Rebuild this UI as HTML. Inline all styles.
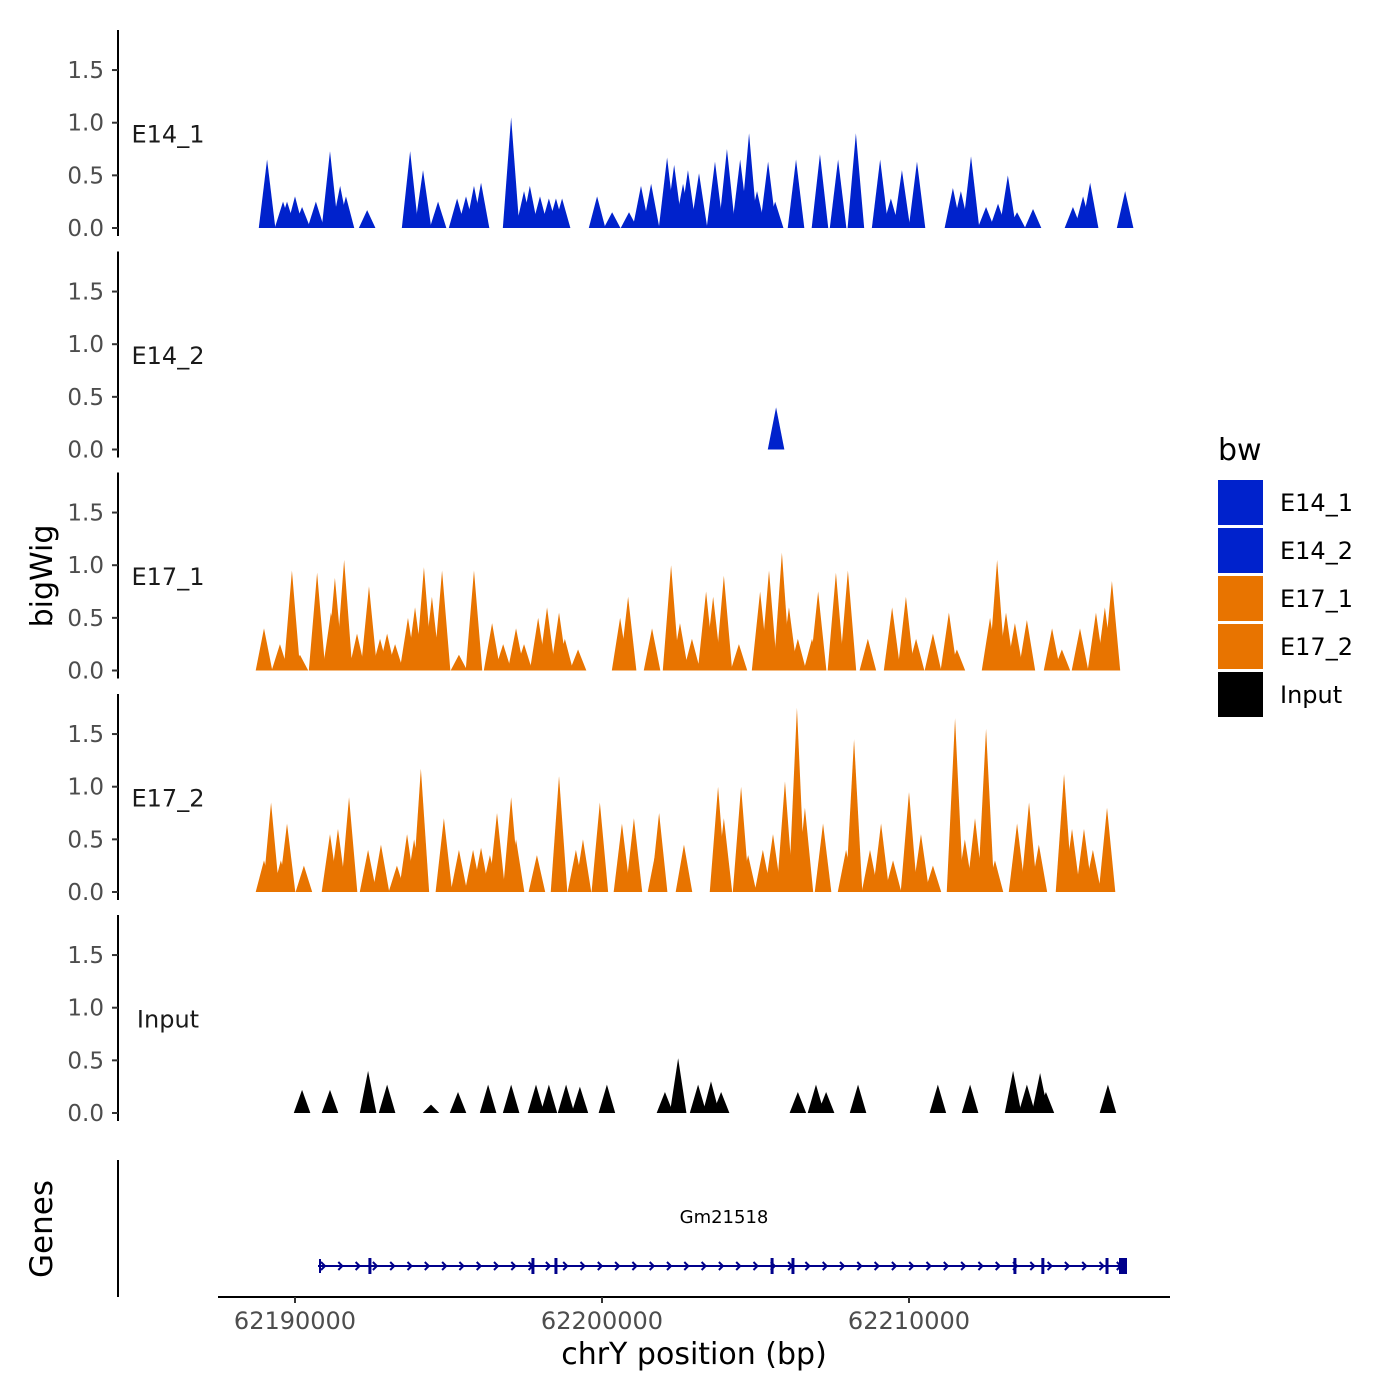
<!DOCTYPE html>
<html><head><meta charset="utf-8"><style>
body{margin:0;background:#fff}
svg{display:block;font-family:"DejaVu Sans","Liberation Sans",sans-serif}
</style></head><body>
<svg id="chart" width="1400" height="1400" viewBox="0 0 1400 1400">
<g id="axes"></g><g id="marks"></g><g id="legend"></g>
</svg>
<script>
// positions in kb relative to 62,190,000 bp ; heights in bigWig units
const trackNames = ["E14_1","E14_2","E17_1","E17_2","Input"];
const e14_1Pos = [-0.91,-0.39,-0.26,0,0.23,0.68,1.14,1.47,1.66,2.35,3.75,4.17,4.66,5.28,5.57,5.83,6.06,7.04,7.46,7.65,7.98,8.27,8.50,8.70,9.84,10.33,10.88,11.27,11.60,12.12,12.35,12.64,12.80,13.16,13.68,14.07,14.50,14.79,15.05,15.41,15.64,16.32,17.10,17.69,18.27,19.06,19.41,19.77,20.26,21.43,21.69,22.02,22.51,22.90,23.22,23.52,24.04,25.34,25.67,25.90,27.04];
const e14_1Val = [0.65,0.25,0.25,0.3,0.2,0.25,0.73,0.4,0.3,0.17,0.73,0.55,0.25,0.28,0.3,0.4,0.43,1.05,0.35,0.4,0.3,0.28,0.28,0.28,0.3,0.15,0.15,0.4,0.42,0.67,0.6,0.42,0.55,0.52,0.63,0.75,0.65,0.9,0.35,0.63,0.25,0.65,0.7,0.65,0.9,0.65,0.28,0.55,0.63,0.38,0.35,0.68,0.2,0.23,0.5,0.15,0.18,0.2,0.3,0.43,0.35];
const e14_2Pos = [15.67];
const e14_2Val = [0.4];
const e17_1Pos = [-1.01,-0.49,-0.10,0.16,0.72,1.17,1.30,1.60,2.02,2.41,2.77,3.00,3.26,3.68,3.91,4.20,4.46,4.79,5.34,5.83,6.42,6.78,7.20,7.46,7.92,8.21,8.60,8.79,9.22,10.59,10.85,11.63,12.25,12.54,12.93,13.39,13.62,13.97,14.46,15.15,15.44,15.86,16.09,16.38,16.84,17.04,17.62,18.01,18.66,19.45,19.90,20.23,20.78,21.30,21.56,22.64,22.87,23.16,23.45,23.84,24.66,24.98,25.57,26.09,26.38,26.61];
const e17_1Val = [0.4,0.25,0.95,0.15,0.93,0.55,0.88,1.05,0.35,0.8,0.3,0.35,0.25,0.5,0.6,0.98,0.7,0.95,0.15,0.95,0.45,0.25,0.4,0.25,0.5,0.6,0.55,0.3,0.2,0.5,0.7,0.4,1.0,0.45,0.3,0.75,0.7,0.9,0.25,0.75,0.95,1.12,0.6,0.3,0.3,0.75,0.93,0.95,0.3,0.6,0.7,0.3,0.35,0.55,0.2,0.5,1.05,0.55,0.45,0.48,0.4,0.2,0.4,0.55,0.6,0.85];
const e17_2Pos = [-1.01,-0.78,-0.46,-0.26,0.29,1.14,1.40,1.76,2.38,2.80,3.32,3.65,3.88,4.10,4.85,5.34,5.80,6.06,6.35,6.58,7.04,7.20,7.88,8.60,9.15,9.38,9.93,10.65,11.04,11.76,11.86,12.67,13.78,13.97,14.53,14.76,15.24,15.57,15.96,16.35,16.61,17.20,17.95,18.21,18.73,19.09,19.48,20.00,20.39,20.78,21.50,21.82,22.15,22.51,22.80,23.52,23.91,24.23,25.05,25.31,25.70,25.99,26.45];
const e17_2Val = [0.3,0.85,0.3,0.65,0.25,0.55,0.6,0.9,0.4,0.45,0.25,0.55,0.5,1.17,0.7,0.4,0.4,0.42,0.35,0.75,0.9,0.5,0.35,1.1,0.4,0.5,0.85,0.65,0.7,0.4,0.75,0.45,1.0,0.7,1.0,0.35,0.4,0.55,1.05,1.75,0.8,0.65,0.4,1.45,0.4,0.65,0.3,0.95,0.55,0.25,1.65,0.5,0.7,1.55,0.3,0.65,0.85,0.45,1.12,0.6,0.6,0.4,0.8];
const inputPos = [0.23,1.14,2.38,3.00,4.43,5.31,6.29,7.04,7.85,8.27,8.83,9.28,10.16,12.05,12.48,13.13,13.55,13.88,16.38,16.97,17.30,18.34,20.94,21.99,23.39,23.84,24.27,24.46,26.48];
const inputVal = [0.22,0.22,0.4,0.27,0.08,0.2,0.27,0.27,0.27,0.27,0.27,0.25,0.27,0.2,0.52,0.27,0.3,0.2,0.2,0.27,0.2,0.27,0.27,0.27,0.4,0.27,0.38,0.2,0.27];
const yTicks = [0,0.5,1,1.5];
const yTickLabels = ["0.0","0.5","1.0","1.5"];
const xTicks = [0,10,20];
const xTickLabels = ["62190000","62200000","62210000"];
const exonPos = [2.44,7.75,8.50,15.54,16.22,23.45,24.36,26.45];

const NS="http://www.w3.org/2000/svg";
function mk(tag,attrs,parent,text){const e=document.createElementNS(NS,tag);for(const k in attrs)e.setAttribute(k,attrs[k]);if(text!==undefined)e.textContent=text;parent.appendChild(e);return e;}
const xS = kb => 295 + kb*30.7;
const zeros=[228,449.5,670.5,892,1113];
const yS = (i,v) => zeros[i] - v*105.3;
const axes=document.getElementById('axes'), marks=document.getElementById('marks'), legend=document.getElementById('legend');
const pos=[e14_1Pos,e14_2Pos,e17_1Pos,e17_2Pos,inputPos];
const vals=[e14_1Val,e14_2Val,e17_1Val,e17_2Val,inputVal];
const cols=["#0022cc","#0022cc","#e87400","#e87400","#000000"];
const hw=0.27;
for(let i=0;i<5;i++){
  const ax=mk('line',{x1:118,x2:118,y1:zeros[i]-198,y2:zeros[i]+8,stroke:'#000','stroke-width':2},axes);
  
  
  yTicks.forEach((t,j)=>{
    const y=yS(i,t);
    const tk=mk('line',{x1:112,x2:118,y1:y,y2:y,stroke:'#333','stroke-width':2},axes);
    
    
    const tl=mk('text',{x:104,y:y+8,'text-anchor':'end','font-size':23,fill:'#4d4d4d'},axes,yTickLabels[j]);
    
    
  });
  const lab=mk('text',{x:168,y:yS(i,1)+20,'text-anchor':'middle','font-size':24,fill:'#1a1a1a'},axes,trackNames[i]);
  
  
  const g=mk('g',{fill:cols[i]},marks);
  
  
  pos[i].forEach((p,j)=>{
    const pk=mk('polygon',{points:`${xS(p-hw)},${zeros[i]} ${xS(p)},${yS(i,vals[i][j])} ${xS(p+hw)},${zeros[i]}`},g);
    
    
  });
}
// Genes panel
let e=mk('line',{x1:118,x2:118,y1:1160,y2:1297,stroke:'#000','stroke-width':2},axes);


e=mk('text',{x:0,y:0,transform:'translate(52,1229) rotate(-90)','text-anchor':'middle','font-size':31,fill:'#000'},axes,'Genes');


e=mk('text',{x:0,y:0,transform:'translate(52,576) rotate(-90)','text-anchor':'middle','font-size':30,fill:'#000'},axes,'bigWig');


const gg=mk('g',{stroke:'#00008b',fill:'none','stroke-width':2},marks);


mk('line',{x1:318,x2:1127,y1:1266,y2:1266},gg);
for(let x=324;x<1120;x+=17.3){mk('polyline',{points:`${x-3},${1262} ${x+1},1266 ${x-3},1270`},gg);}
mk('line',{x1:320,x2:320,y1:1259,y2:1273},gg);
exonPos.forEach(p=>{mk('rect',{x:xS(p)-1.5,y:1258,width:3,height:16,fill:'#00008b',stroke:'none'},gg);});
mk('rect',{x:1119,y:1258,width:8,height:16,fill:'#00008b',stroke:'none'},gg);
e=mk('text',{x:724,y:1223,'text-anchor':'middle','font-size':18,fill:'#000'},marks,'Gm21518');


// x axis
e=mk('line',{x1:218,x2:1170,y1:1297,y2:1297,stroke:'#000','stroke-width':2},axes);


xTicks.forEach((t,j)=>{
  const tk=mk('line',{x1:xS(t),x2:xS(t),y1:1297,y2:1303,stroke:'#333','stroke-width':2},axes);
  
  
  const tl=mk('text',{x:xS(t),y:1329,'text-anchor':'middle','font-size':24,fill:'#4d4d4d'},axes,xTickLabels[j]);
  
  
});
e=mk('text',{x:694,y:1364,'text-anchor':'middle','font-size':30,fill:'#000'},axes,'chrY position (bp)');


// legend
e=mk('text',{x:1218,y:460,'font-size':30,fill:'#000'},legend,'bw');


trackNames.forEach((n,i)=>{
  const y=480+i*48;
  const k=mk('rect',{x:1218,y:y,width:45,height:45,fill:cols[i]},legend);
  
  
  const t=mk('text',{x:1280,y:y+31,'font-size':24,fill:'#000'},legend,n);
  
  
});
</script>
</body></html>
